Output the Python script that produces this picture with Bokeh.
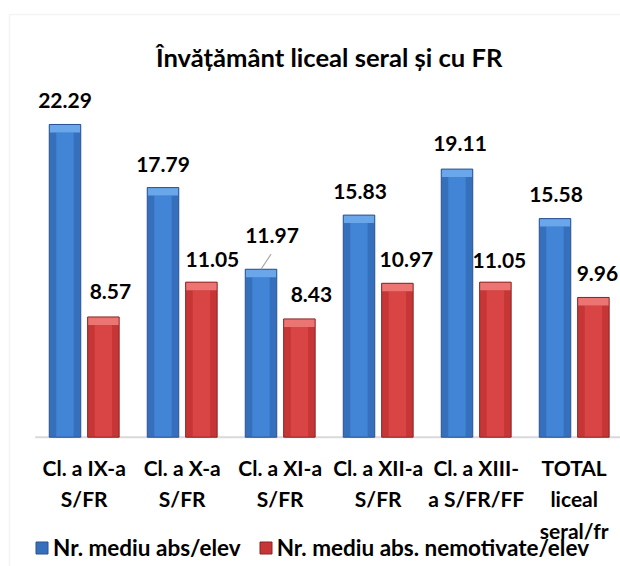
import numpy as np
from bokeh.plotting import figure
from bokeh.models import (Range1d, ColumnDataSource, Legend, LegendItem,
                          BoxAnnotation)
from bokeh.core.properties import value
from bokeh.embed import file_html
from bokeh.resources import INLINE

# ---------------- data ----------------
title_text = "Învățământ liceal seral și cu FR"
categories = ["Cl. a IX-a\nS/FR", "Cl. a X-a\nS/FR", "Cl. a XI-a\nS/FR",
              "Cl. a XII-a\nS/FR", "Cl. a XIII-\na S/FR/FF",
              "TOTAL\nliceal\nseral/fr"]
abs_total = [22.29, 17.79, 11.97, 15.83, 19.11, 15.58]
abs_nemotivate = [8.57, 11.05, 8.43, 10.97, 11.05, 9.96]
series_names = ["Nr. mediu abs/elev", "Nr. mediu abs. nemotivate/elev"]

# label nudges (pixels), as placed in the original
blue_dx = [0, 0, 11, 1, 3, 1]
blue_dy = [-24, -23, -34, -24, -26, -24]
red_dx = [7, 11, 12, 9, 4, 4]
red_dy = [-25, -23, -24, -24, -22, -24]

# ---------------- layout constants (pixels) ----------------
W, H = 620, 566
ORIGIN_X = 34.7     # left end of the category axis
BASE_Y = 436.7      # baseline (value 0)
PX_CAT = 98.0       # pixels per category
PX_UNIT = 14.03     # pixels per value unit
BORDER_X, BORDER_Y = 9, 14
TITLE_BASE = 56

x_start = -ORIGIN_X / PX_CAT
x_end = (W - ORIGIN_X) / PX_CAT
y_start = -(H - BASE_Y) / PX_UNIT
y_end = BASE_Y / PX_UNIT

FONT = "Lato"
n = len(categories)
centers = np.arange(n) + 0.5

p = figure(width=W, height=H, output_backend="svg", toolbar_location=None,
           x_range=Range1d(x_start, x_end), y_range=Range1d(y_start, y_end),
           min_border=0, background_fill_color="white",
           border_fill_color="white")
p.outline_line_color = None
p.grid.visible = False
p.axis.visible = False

# chart border (only left/top edges fall inside the view)
p.add_layout(BoxAnnotation(left=-(ORIGIN_X - BORDER_X) / PX_CAT,
                           top=(BASE_Y - BORDER_Y) / PX_UNIT,
                           right=x_end + 1, bottom=y_start - 1,
                           fill_alpha=0, line_color="#d9d9d9",
                           line_width=1.5))

# title
p.text(x=[n / 2], y=[(BASE_Y - TITLE_BASE) / PX_UNIT], text=[title_text],
       text_font=value(FONT), text_font_style="bold", text_font_size="25.6px",
       text_color="black", text_align="center", text_baseline="alphabetic")

# category axis: line + labels
p.segment(x0=[0], y0=[0], x1=[x_end], y1=[0], line_color="#d9d9d9",
          line_width=2)
p.text(x=list(centers), y=[0] * n, text=categories, y_offset=18,
       text_font=value(FONT), text_font_style="bold", text_font_size="21px",
       text_color="black", text_align="center", text_baseline="top",
       text_line_height=1.25)

# bars
half_gap = 19.2 / PX_CAT
bar_w = 31.5 / PX_CAT
cap_h = 8 / PX_UNIT

def draw_series(xs, vals, outer_fill, line_col, inner_fill, cap_fill):
    src = ColumnDataSource(dict(x=xs, top=vals,
                                cap_bottom=[v - cap_h for v in vals]))
    r_fill = p.vbar(x="x", top="top", bottom=0, width=bar_w, source=src,
                    fill_color=outer_fill, line_color=None)
    p.vbar(x="x", top="cap_bottom", bottom=0, width=bar_w * 0.55, source=src,
           fill_color=inner_fill, line_color=None)
    p.vbar(x="x", top="top", bottom="cap_bottom", width=bar_w, source=src,
           fill_color=cap_fill, line_color=None)
    r_line = p.vbar(x="x", top="top", bottom=0, width=bar_w, source=src,
                    fill_color=None, line_color=line_col, line_width=1)
    return [r_fill, r_line]

bx = centers - half_gap
rx = centers + half_gap
blue_r = draw_series(bx, abs_total, "#3670bd", "#2a5190", "#4285d6", "#69a6ea")
red_r = draw_series(rx, abs_nemotivate, "#c73636", "#8c2323", "#d94545", "#ec7473")

# data labels
lab_src = ColumnDataSource(dict(
    x=list(bx) + list(rx),
    y=abs_total + abs_nemotivate,
    text=[f"{v:.2f}" for v in abs_total + abs_nemotivate],
    dx=blue_dx + red_dx,
    dy=blue_dy + red_dy,
))
p.text(x="x", y="y", text="text", x_offset="dx", y_offset="dy", source=lab_src,
       text_font=value(FONT), text_font_style="bold", text_font_size="21px",
       text_color="black", text_align="center", text_baseline="middle")

# leader line for the moved label (11.97)
i = 2
p.segment(x0=[bx[i]], y0=[abs_total[i]],
          x1=[bx[i] + 10 / PX_CAT], y1=[abs_total[i] + 15 / PX_UNIT],
          line_color="#a6a6a6", line_width=1.2)

# legend
legend = Legend(items=[LegendItem(label=series_names[0], renderers=blue_r),
                       LegendItem(label=series_names[1], renderers=red_r)],
                orientation="horizontal", location=(34, 5),
                glyph_width=15, glyph_height=15, label_standoff=4, spacing=17,
                padding=0, margin=0, border_line_color=None,
                background_fill_alpha=0, label_height=20,
                label_text_font=FONT, label_text_font_size="22.5px",
                label_text_font_style="bold", label_text_color="black")
p.add_layout(legend, "center")

open("out.html", "w").write(file_html(p, INLINE))
